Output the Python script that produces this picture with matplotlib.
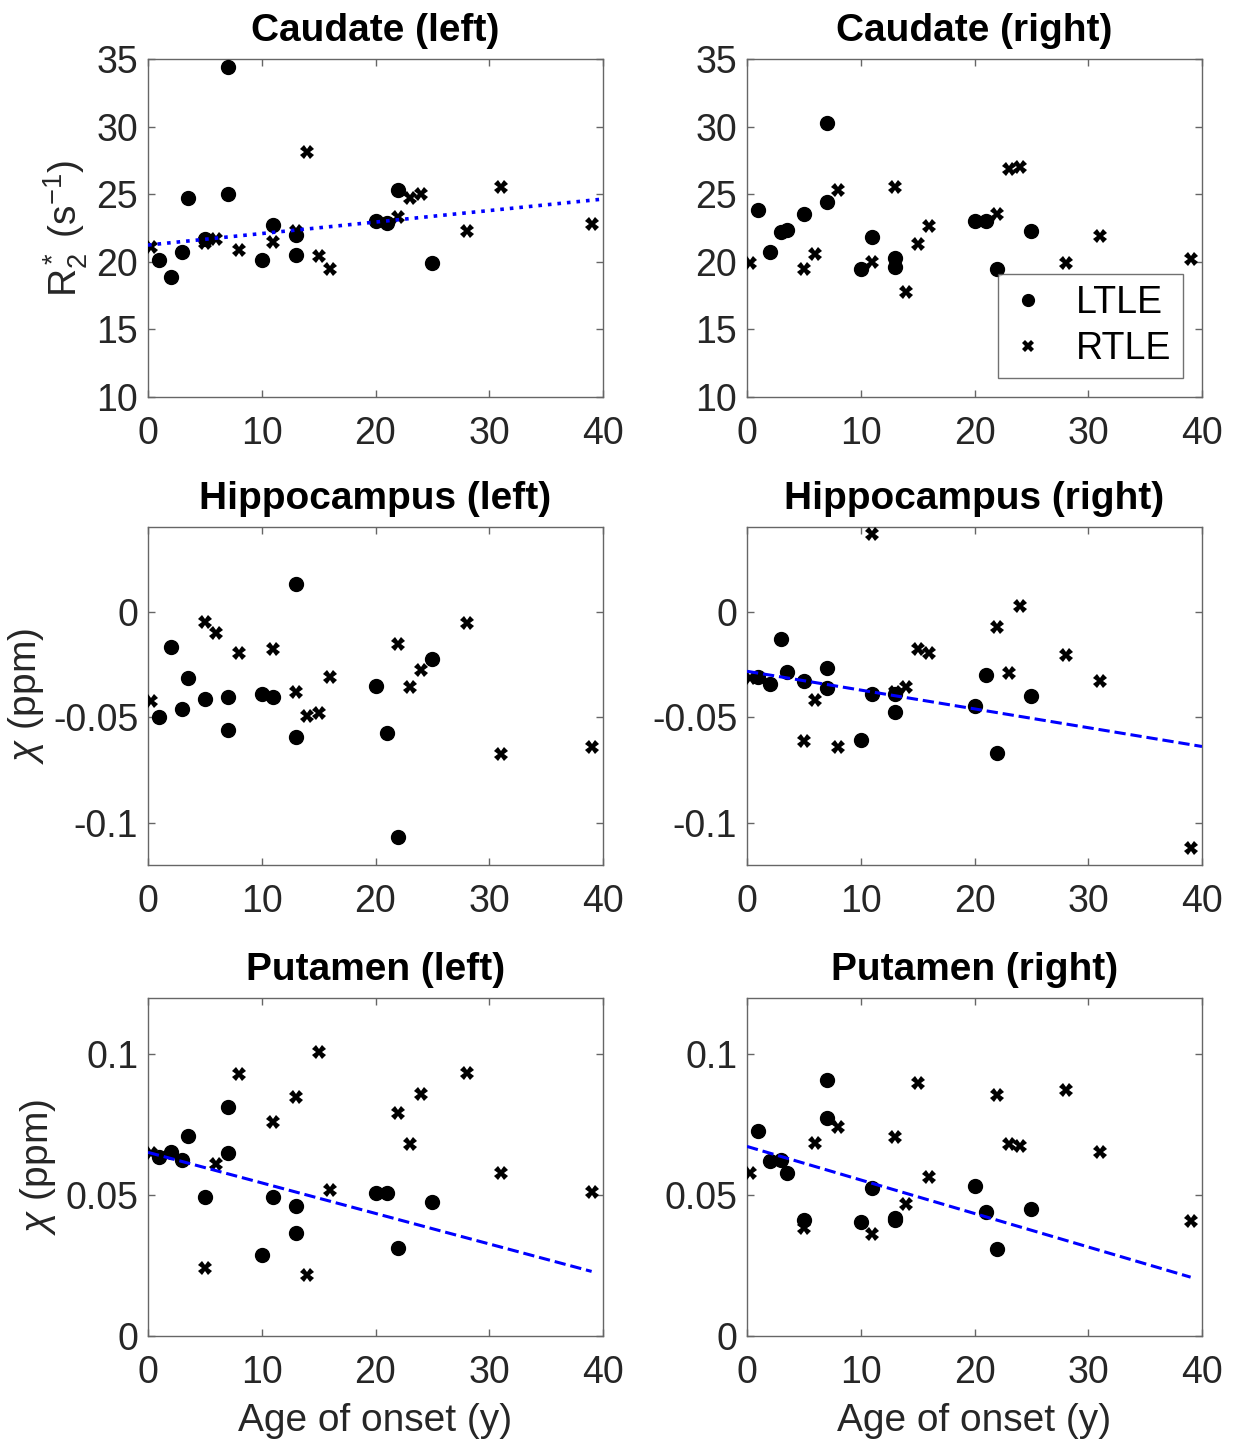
import numpy as np
import matplotlib
matplotlib.use("Agg")
import matplotlib.pyplot as plt

plt.rcParams["font.family"] = ["Liberation Sans", "DejaVu Sans"]
plt.rcParams["mathtext.fontset"] = "custom"
plt.rcParams["mathtext.rm"] = "Liberation Sans"
plt.rcParams["mathtext.it"] = "Liberation Sans:italic"
plt.rcParams["mathtext.default"] = "regular"

# Age of onset (years) for each group
age_ltle = [1, 2, 3, 3.5, 5, 7, 7, 10, 11, 13, 13, 20, 21, 22, 25]
age_rtle = [0.3, 5, 6, 8, 11, 13, 14, 15, 16, 22, 23, 24, 28, 31, 39]

# R2* (s^-1), caudate
caud_l_ltle = [20.1, 18.9, 20.7, 24.7, 21.7, 34.4, 25.0, 20.1, 22.7, 22.0, 20.5, 23.0, 22.9, 25.3, 19.9]
caud_l_rtle = [21.1, 21.4, 21.7, 20.9, 21.5, 22.3, 28.1, 20.4, 19.5, 23.3, 24.7, 25.0, 22.3, 25.5, 22.8]
caud_r_ltle = [23.8, 20.7, 22.2, 22.35, 23.5, 30.3, 24.4, 19.5, 21.8, 20.3, 19.6, 23.0, 23.0, 19.5, 22.3]
caud_r_rtle = [19.9, 19.5, 20.6, 25.3, 20.0, 25.5, 17.8, 21.3, 22.65, 23.5, 26.9, 27.0, 19.9, 21.9, 20.2]

# susceptibility chi (ppm), hippocampus
hip_l_ltle = [-0.050, -0.0168, -0.0461, -0.0316, -0.0414, -0.0404, -0.0562, -0.0392, -0.0404,
              0.0129, -0.0596, -0.0354, -0.0576, -0.1067, -0.0225]
hip_l_rtle = [-0.0425, -0.0052, -0.0102, -0.0196, -0.0176, -0.0379, -0.0496, -0.048, -0.0312,
              -0.0153, -0.0359, -0.0279, -0.0055, -0.0673, -0.0642]
hip_r_ltle = [-0.031, -0.0341, -0.013, -0.0288, -0.033, -0.0267, -0.0362, -0.0609, -0.0389,
              -0.0389, -0.0475, -0.0449, -0.030, -0.0669, -0.0398]
hip_r_rtle = [-0.0315, -0.0614, -0.0417, -0.0642, 0.0365, -0.038, -0.0359, -0.0178, -0.0197,
              -0.0074, -0.0291, 0.0024, -0.0204, -0.033, -0.112]

# susceptibility chi (ppm), putamen
put_l_ltle = [0.0634, 0.0655, 0.0625, 0.0711, 0.0495, 0.0812, 0.065, 0.0287, 0.0495, 0.0462,
              0.0367, 0.0509, 0.0509, 0.0313, 0.0474]
put_l_rtle = [0.0648, 0.024, 0.061, 0.0931, 0.0759, 0.085, 0.0216, 0.1008, 0.0519, 0.0791,
              0.0682, 0.086, 0.0933, 0.058, 0.0512]
put_r_ltle = [0.0727, 0.0622, 0.0625, 0.058, 0.0411, 0.091, 0.0773, 0.0406, 0.0527, 0.042,
              0.0412, 0.0532, 0.0442, 0.0308, 0.045]
put_r_rtle = [0.0578, 0.0382, 0.0684, 0.0743, 0.0361, 0.0705, 0.0468, 0.0899, 0.0565, 0.0854,
              0.0682, 0.0676, 0.0875, 0.0655, 0.0407]

# fitted trend lines: (intercept, slope, x start, x end, style)
fit_caud_l = (21.24, 0.085, 0, 40, ":")
fit_hip_r = (-0.0283, -0.00089, 0, 40, "--")
fit_put_l = (0.0652, -0.001084, 0, 39, "--")
fit_put_r = (0.0673, -0.00119, 0, 39, "--")

panels = [
    ("Caudate (left)", caud_l_ltle, caud_l_rtle, fit_caud_l),
    ("Caudate (right)", caud_r_ltle, caud_r_rtle, None),
    ("Hippocampus (left)", hip_l_ltle, hip_l_rtle, None),
    ("Hippocampus (right)", hip_r_ltle, hip_r_rtle, fit_hip_r),
    ("Putamen (left)", put_l_ltle, put_l_rtle, fit_put_l),
    ("Putamen (right)", put_r_ltle, put_r_rtle, fit_put_r),
]
row_ylim = [(10, 35), (-0.12, 0.04), (0, 0.12)]
row_yticks = [[10, 15, 20, 25, 30, 35], [-0.1, -0.05, 0], [0, 0.05, 0.1]]
row_yticklabels = [["10", "15", "20", "25", "30", "35"], ["-0.1", "-0.05", "0"], ["0", "0.05", "0.1"]]
row_ylabel = ["R$_2^*$ (s$^{-1}$)", "$\\mathit{\\chi}$ (ppm)", "$\\mathit{\\chi}$ (ppm)"]

W, H = 1234, 1444
fig = plt.figure(figsize=(W / 100, H / 100), dpi=100)

lefts = [148, 747]
tops = [59, 527, 998]
aw, ah = 455, 338
FS_TICK = 27
FS = 28
txt_col = "0.15"

for i, (title, y_l, y_r, fit) in enumerate(panels):
    row, col = divmod(i, 2)
    ax = fig.add_axes([lefts[col] / W, 1 - (tops[row] + ah) / H, aw / W, ah / H])
    ax.plot(age_ltle, y_l, "o", color="black", markersize=10, label="LTLE", zorder=3)
    ax.plot(age_rtle, y_r, "X", color="black", markersize=9.5, markeredgewidth=0,
            label="RTLE", zorder=3)
    if fit is not None:
        b0, b1, x0, x1, ls = fit
        xs = np.array([x0, x1])
        lw = 2.6 if ls == ":" else 2.2
        ax.plot(xs, b0 + b1 * xs, ls, color="blue", linewidth=lw, zorder=4)
    ax.set_xlim(0, 40)
    ax.set_ylim(*row_ylim[row])
    ax.set_xticks([0, 10, 20, 30, 40])
    ax.set_yticks(row_yticks[row])
    ax.set_yticklabels(row_yticklabels[row])
    ax.tick_params(direction="in", length=5, width=1, top=True, right=True,
                   labelsize=FS_TICK, colors="0.4", labelcolor=txt_col)
    ax.tick_params(axis="x", pad=14)
    ax.tick_params(axis="y", pad=7)
    for sp in ax.spines.values():
        sp.set_color("0.4")
        sp.set_linewidth(1)
    ax.set_title(title, fontsize=FS, fontweight="bold", pad=13)
    if col == 0:
        ax.set_ylabel(row_ylabel[row], fontsize=FS, color=txt_col, labelpad=5)
    if row == 2:
        ax.set_xlabel("Age of onset (y)", fontsize=FS, color=txt_col, labelpad=8)
    if i == 1:
        leg = ax.legend(loc="lower right", bbox_to_anchor=(0.958, 0.056), borderaxespad=0,
                        fontsize=FS_TICK, frameon=True, fancybox=False, markerscale=0.85,
                        handlelength=1.0, handletextpad=0.8, borderpad=0.3, labelspacing=0.25)
        leg.get_frame().set_edgecolor("0.3")
        leg.get_frame().set_linewidth(1)

fig.savefig("out.png", dpi=100)
